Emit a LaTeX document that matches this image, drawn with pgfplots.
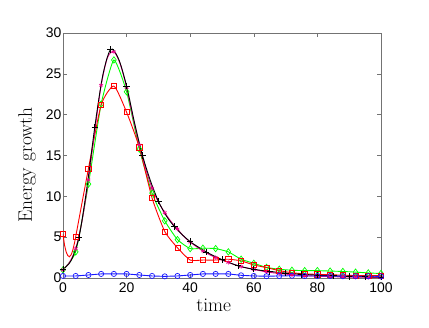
\documentclass[border=0pt]{standalone}
\usepackage{pgfplots}
\pgfplotsset{compat=1.18}
\usepackage{fontspec}
\newfontfamily\arial{Liberation Sans}
\definecolor{axgray}{gray}{0.45}
\definecolor{mlgreen}{rgb}{0,1,0}
\definecolor{mlblue}{rgb}{0.1,0.1,1}
\begin{document}
\begin{tikzpicture}
\begin{axis}[
  name=ax,
  scale only axis,
  width=318bp, height=245bp,
  xmin=0, xmax=100, ymin=0, ymax=30,
  xtick={0,20,...,100}, ytick={0,5,...,30},
  tick align=inside,
  major tick length=4bp,
  axis line style={axgray, line width=0.8bp},
  major tick style={axgray, line width=0.6bp},
  /pgf/number format/assume math mode=true,
  tick label style={font=\arial\fontsize{14}{16}\selectfont},
  yticklabel style={inner sep=1.5bp},
  xticklabel style={inner sep=1.5bp, yshift=-3bp},
  xlabel={time},
  ylabel={Energy growth},
  label style={font=\fontsize{19.5}{22}\selectfont},
  xlabel style={at={(axis description cs:0.474,-0.11)}, anchor=center},
  ylabel style={at={(axis description cs:-0.113,0.46)}, anchor=center},
  every axis plot/.append style={line width=0.9bp},
]
% green, diamonds
\addplot[mlgreen, smooth, tension=0.3, mark=diamond, mark size=3.2bp,
  mark options={solid, line width=0.7bp}] coordinates {
 (0,1.0) (4,3.2) (8,11.5) (12,21.3) (16,26.7) (20,22.8) (24,15.8) (28,10.4)
 (32,7.0) (36,4.7) (40,3.6) (44,3.65) (48,3.6) (52,3.2) (56,2.3) (60,1.8)
 (64,1.3) (68,1.07) (72,0.95) (76,0.9) (80,0.9) (84,0.85) (88,0.8) (92,0.72)
 (96,0.62) (100,0.55)};
% red line
\addplot[red, smooth, tension=0.35] coordinates {
 (0,5.36) (0.5,4.0) (1,3.2) (1.5,2.75) (2,2.6) (2.5,2.8) (3,3.3) (3.5,4.1)
 (4,5.07) (8,13.4) (12,21.2) (16,23.5) (20,20.3) (24,16.0) (28,9.8) (32,5.7)
 (36,3.7) (40,2.2) (44,2.2) (48,2.2) (52,2.3) (56,2.1) (60,1.6) (64,1.27)
 (68,0.9) (72,0.65) (76,0.5) (80,0.45) (84,0.4) (88,0.35) (92,0.3) (96,0.3)
 (100,0.3)};
% red squares
\addplot[red, only marks, mark=square, mark size=2.6bp, mark options={line width=0.7bp}] coordinates {
 (0,5.36) (4,5.07) (8,13.4) (12,21.2) (16,23.5) (20,20.3) (24,16.0) (28,9.8)
 (32,5.7) (36,3.7) (40,2.2) (44,2.2) (48,2.2) (52,2.3) (56,2.1) (60,1.6)
 (64,1.27) (68,0.9) (72,0.65) (76,0.5) (80,0.45) (84,0.4) (88,0.35) (92,0.3)
 (96,0.3) (100,0.3)};
% magenta line
\addplot[magenta, smooth] coordinates {
 (0,1.0) (2,1.9) (4,3.6) (6,7.0) (8,12.0) (10,18.0) (12,23.6) (14,27.0)
 (16,27.7) (18,26.2) (20,23.3) (22,19.6) (24,16.3) (26,13.4) (28,11.0)
 (30,9.3) (32,8.0) (34,6.9) (36,6.0) (38,5.1) (40,4.4) (44,3.3) (48,2.5)
 (52,1.9) (56,1.4) (60,1.05) (64,0.75) (68,0.55) (72,0.4) (76,0.3) (80,0.22)
 (84,0.17) (88,0.13) (92,0.1) (96,0.08) (100,0.07)};
% magenta marks
\addplot[magenta, only marks, mark=asterisk, mark size=2.2bp, mark options={line width=0.6bp}] coordinates {
 (0,1.0) (4,3.6) (8,12.0) (12,23.6) (16,27.7) (20,23.3) (24,16.3) (28,11.0)
 (32,8.0) (36,6.0) (40,4.4) (44,3.3) (48,2.5) (52,1.9) (56,1.4) (60,1.05)
 (64,0.75) (68,0.55) (72,0.4) (76,0.3) (80,0.22) (84,0.17) (88,0.13)
 (92,0.1) (96,0.08) (100,0.07)};
% black, plus every 5
\addplot[black, smooth, mark=+, mark repeat=2, mark size=3.2bp,
  mark options={line width=0.7bp}] coordinates {
 (0,1.07) (2.5,2.1) (5,4.95) (7.5,11.0) (10,18.5) (12.5,24.8) (15,28.0)
 (17.5,26.8) (20,23.5) (22.5,19.0) (25,15.0) (27.5,11.9) (30,9.4)
 (32.5,7.6) (35,6.3) (37.5,5.3) (40,4.45) (42.5,3.8) (45,3.2) (47.5,2.7)
 (50,2.25) (52.5,1.85) (55,1.5) (57.5,1.25) (60,1.07) (62.5,0.92) (65,0.8)
 (67.5,0.7) (70,0.6) (72.5,0.52) (75,0.45) (77.5,0.4) (80,0.35) (82.5,0.3)
 (85,0.27) (87.5,0.23) (90,0.2) (92.5,0.18) (95,0.15) (97.5,0.13) (100,0.12)};
% blue circles
\addplot[mlblue, mark=o, mark size=2.6bp, mark options={line width=0.7bp}] coordinates {
 (0,0.25) (4,0.25) (8,0.37) (12,0.5) (16,0.5) (20,0.5) (24,0.37) (28,0.25)
 (32,0.2) (36,0.25) (40,0.37) (44,0.5) (48,0.5) (52,0.5) (56,0.33) (60,0.25)
 (64,0.22) (68,0.25) (72,0.28) (76,0.25) (80,0.25) (84,0.25) (88,0.22)
 (92,0.22) (96,0.22) (100,0.2)};
\end{axis}
\path (ax.south west) ++(-63bp,-50bp) rectangle ++(429bp,328bp);
\end{tikzpicture}
\end{document}
